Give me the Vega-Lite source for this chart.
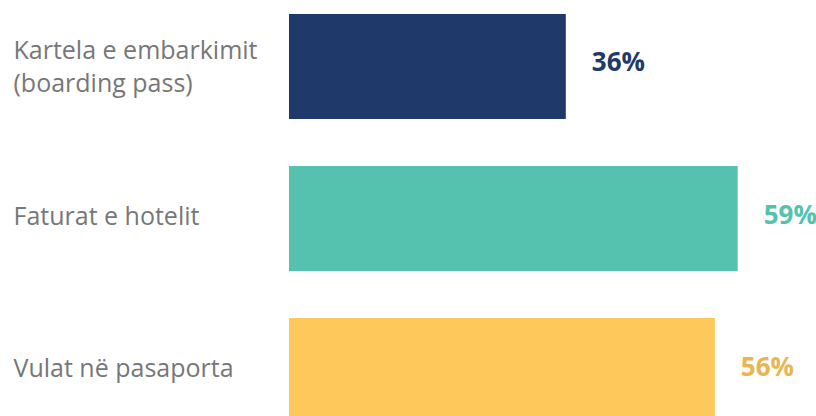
{
  "$schema": "https://vega.github.io/schema/vega-lite/v6.json",
  "autosize": {"type": "none"},
  "padding": {"left": 289, "top": 0, "right": 0, "bottom": 0},
  "width": 527,
  "height": 437,
  "background": "white",
  "data": {
    "values": [
      {"category": "Kartela e embarkimit|(boarding pass)", "value": 36.4, "label": "36%"},
      {"category": "Faturat e hotelit", "value": 59, "label": "59%"},
      {"category": "Vulat në pasaporta", "value": 56, "label": "56%"}
    ]
  },
  "encoding": {
    "y": {
      "field": "category",
      "type": "nominal",
      "sort": null,
      "scale": {"paddingInner": 0.31, "paddingOuter": 0.092},
      "axis": {
        "title": null,
        "domain": false,
        "ticks": false,
        "tickSize": 0,
        "labelAlign": "left",
        "labelPadding": 276,
        "labelFont": "Open Sans",
        "labelFontSize": 25,
        "labelColor": "#76777a",
        "labelLineHeight": 33,
        "labelLimit": 300,
        "labelOffset": {"condition": {"test": "indexof(datum.value, '|') >= 0", "value": -15}, "value": -2},
        "labelExpr": "split(datum.label, '|')"
      }
    }
  },
  "layer": [
    {
      "mark": {"type": "bar"},
      "encoding": {
        "x": {"field": "value", "type": "quantitative", "scale": {"domain": [0, 69.3], "nice": false}, "axis": null},
        "color": {
          "field": "category",
          "type": "nominal",
          "sort": null,
          "scale": {"range": ["#1f3a6a", "#54c2ae", "#fec85a"]},
          "legend": null
        }
      }
    },
    {
      "mark": {"type": "text", "align": "left", "baseline": "middle", "dx": 26, "dy": -3, "font": "Open Sans", "fontSize": 26, "fontWeight": "bold"},
      "encoding": {
        "x": {"field": "value", "type": "quantitative"},
        "text": {"field": "label"},
        "color": {
          "field": "category",
          "type": "nominal",
          "sort": null,
          "scale": {"range": ["#1f3a6a", "#54c2ae", "#e9b54f"]},
          "legend": null
        }
      }
    }
  ],
  "resolve": {"scale": {"color": "independent"}},
  "config": {"view": {"stroke": null}}
}
